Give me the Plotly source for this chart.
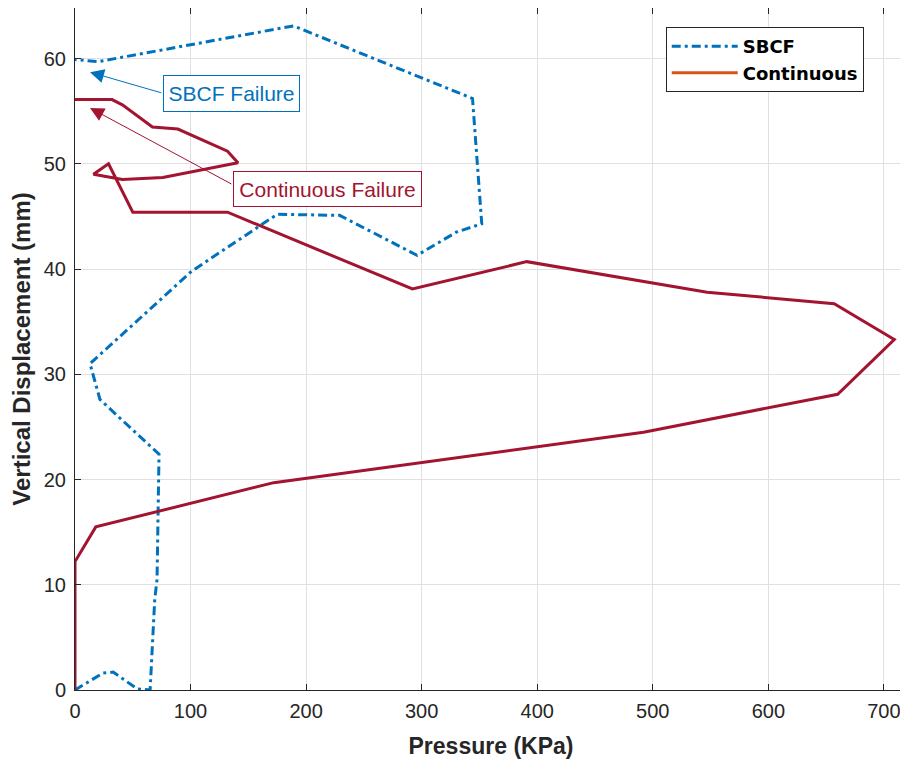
import plotly.graph_objects as go

# SBCF (dash-dot, blue)
sbcf_p = [0, 24, 33, 54, 65, 69, 71, 72.7, 21.6, 13, 101, 175, 229, 296, 330, 352, 344, 189, 20, 0]
sbcf_d = [0, 1.6, 1.7, 0.1, 0, 8.6, 10.5, 22.4, 27.6, 31, 39.8, 45.2, 45.1, 41.3, 43.5, 44.3, 56.2, 63.1, 59.7, 59.9]

# Continuous (solid, dark red)
cont_p = [0, 0, 18, 172, 492, 660, 709, 657, 547, 391, 292, 132, 50, 29, 16, 41, 76, 141, 132, 89, 67, 41, 32, 0]
cont_d = [0, 12.2, 15.5, 19.7, 24.5, 28.1, 33.3, 36.7, 37.8, 40.7, 38.1, 45.4, 45.4, 50.0, 49.0, 48.5, 48.7, 50.1, 51.2, 53.3, 53.5, 55.6, 56.1, 56.1]

x_ticks = [0, 100, 200, 300, 400, 500, 600, 700]
y_ticks = [0, 10, 20, 30, 40, 50, 60]

BLUE = "#0072BD"
RED = "#A2142F"
ORANGE = "#D95319"
AX = "#262626"
FONT = "Liberation Sans, Arial"
DASH = "9px,4px,3px,4px"

fig = go.Figure()
fig.add_trace(go.Scatter(x=sbcf_p, y=sbcf_d, mode="lines", showlegend=False,
                         line=dict(color=BLUE, width=3, dash=DASH)))
fig.add_trace(go.Scatter(x=cont_p, y=cont_d, mode="lines", showlegend=False,
                         line=dict(color=RED, width=3)))
# legend entries (as in the original figure's legend)
fig.add_trace(go.Scatter(x=[None], y=[None], mode="lines", name="<b>SBCF</b>",
                         line=dict(color=BLUE, width=3, dash=DASH)))
fig.add_trace(go.Scatter(x=[None], y=[None], mode="lines", name="<b>Continuous</b>",
                         line=dict(color=ORANGE, width=3)))

# arrows
fig.add_annotation(x=13, y=58.7, ax=76, ay=56.7, xref="x", yref="y", axref="x", ayref="y",
                   text="", showarrow=True, arrowhead=2, arrowsize=2.8, arrowwidth=1,
                   arrowcolor=BLUE, standoff=0, startstandoff=0)
fig.add_annotation(x=13, y=55.3, ax=136.7, ay=48.0, xref="x", yref="y", axref="x", ayref="y",
                   text="", showarrow=True, arrowhead=2, arrowsize=2.8, arrowwidth=1,
                   arrowcolor=RED, standoff=0, startstandoff=0)
# text boxes
fig.add_annotation(x=135.4, y=56.7, xref="x", yref="y", text="SBCF Failure", showarrow=False,
                   font=dict(family=FONT, size=21, color=BLUE),
                   bordercolor=BLUE, borderwidth=1, borderpad=2, bgcolor="white",
                   width=131, height=31)
fig.add_annotation(x=218.4, y=47.6, xref="x", yref="y", text="Continuous Failure", showarrow=False,
                   font=dict(family=FONT, size=21, color=RED),
                   bordercolor=RED, borderwidth=1, borderpad=2, bgcolor="white",
                   width=183, height=30)

axis_common = dict(showline=True, linecolor=AX, linewidth=1, mirror="ticks",
                   ticks="inside", ticklen=6, tickcolor=AX, showgrid=True,
                   gridcolor="#E0E0E0", gridwidth=1, zeroline=False, automargin=False,
                   tickfont=dict(family=FONT, size=20, color=AX))

fig.update_xaxes(range=[0, 720], tickvals=x_ticks, **axis_common, ticklabelstandoff=3,
                 title=dict(text="<b>Pressure (KPa)</b>", standoff=16,
                            font=dict(family=FONT, size=23, color=AX)))
fig.update_yaxes(range=[0, 64.8], tickvals=y_ticks, **axis_common, ticklabelstandoff=4,
                 title=dict(text="<b>Vertical Displacement (mm)</b>", standoff=10,
                            font=dict(family=FONT, size=24, color=AX)))

fig.update_layout(width=900, height=751, margin=dict(l=67, r=1, t=0, b=69),
                  plot_bgcolor="white", paper_bgcolor="white",
                  legend=dict(x=0.710, y=0.972, xanchor="left", yanchor="top",
                              bordercolor=AX, borderwidth=1, bgcolor="white",
                              font=dict(family="DejaVu Sans", size=18, color="black"),
                              tracegroupgap=0, itemwidth=66))

fig.write_html("out.html")
